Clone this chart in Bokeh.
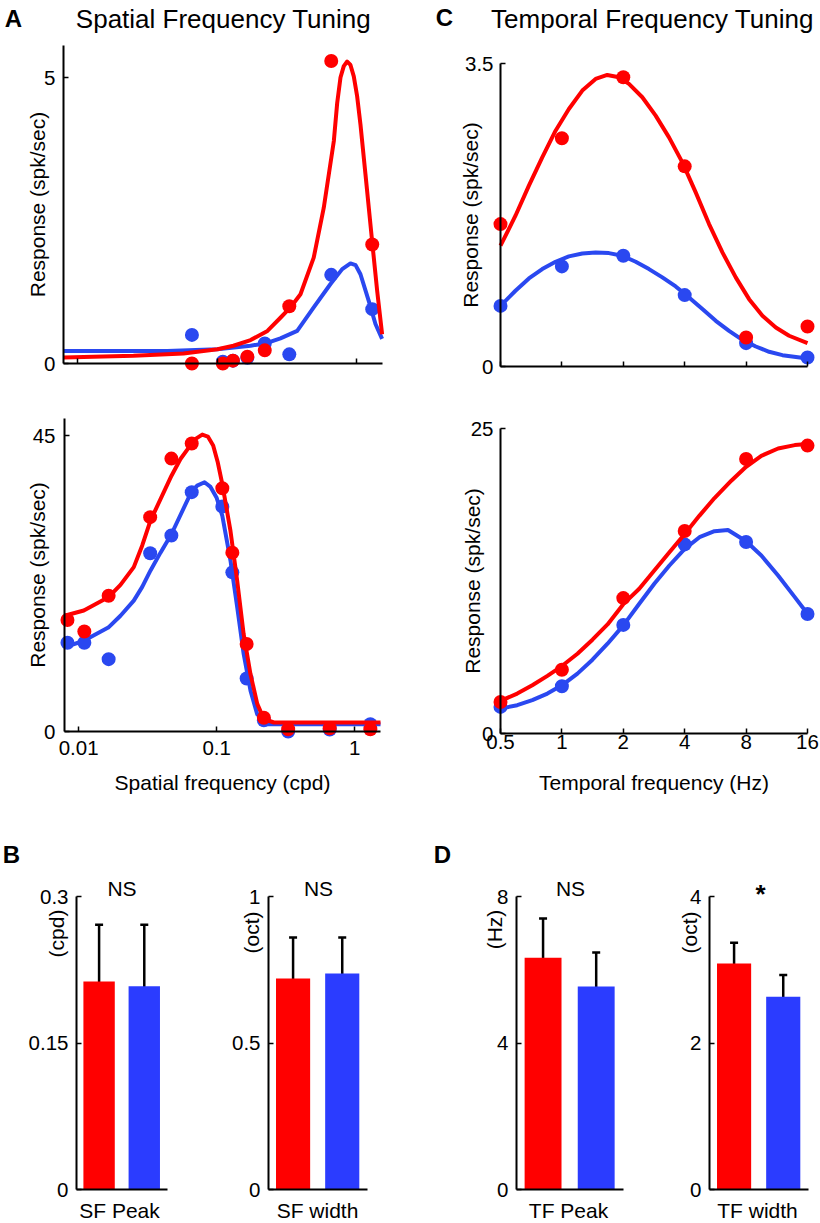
import math
from bokeh.plotting import figure
from bokeh.models import (Range1d, FixedTicker, CustomJSTickFormatter, Label,
                          Whisker, TeeHead, ColumnDataSource)
from bokeh.layouts import row, column
from bokeh.embed import file_html
from bokeh.resources import INLINE

FONT = "Liberation Sans"
RED = "#FF0000"
BLUE = "#2A48F0"
BAR_BLUE = "#2B3CFF"

# ---------------- data ----------------
# A: spatial frequency tuning (cpd)
sf = [0.0083, 0.011, 0.0165, 0.033, 0.047, 0.066, 0.11, 0.13, 0.165, 0.22, 0.33, 0.66, 1.3]
sf_top = [0.066, 0.11, 0.13, 0.165, 0.22, 0.33, 0.66, 1.3]
sfA1_red = [0.0, 0.0, 0.05, 0.12, 0.23, 1.0, 5.29, 2.08]
sfA1_blue = [0.5, 0.03, 0.05, 0.1, 0.35, 0.16, 1.55, 0.95]
sfA1_red_fit_x = [0.00793, 0.0251, 0.0574, 0.1007, 0.131, 0.174, 0.230, 0.285, 0.336, 0.397,
                  0.494, 0.583, 0.689, 0.728, 0.769, 0.812, 0.859, 0.907, 0.958, 1.013,
                  1.07, 1.162, 1.297, 1.41, 1.53]
sfA1_red_fit_y = [0.105, 0.134, 0.175, 0.25, 0.31, 0.41, 0.57, 0.80, 0.98, 1.21,
                  1.85, 2.72, 3.89, 4.55, 5.0, 5.2, 5.28, 5.22, 5.02, 4.67,
                  4.18, 3.31, 2.14, 1.27, 0.51]
sfA1_blue_fit_x = [0.00793, 0.0438, 0.1003, 0.174, 0.229, 0.285, 0.376, 0.494, 0.652, 0.791,
                   0.907, 0.987, 1.07, 1.228, 1.371, 1.53]
sfA1_blue_fit_y = [0.22, 0.22, 0.25, 0.31, 0.36, 0.44, 0.57, 0.98, 1.39, 1.65,
                   1.75, 1.72, 1.56, 1.09, 0.69, 0.43]

sfA2_red = [16.95, 15.2, 20.65, 32.6, 41.5, 43.8, 37.0, 27.2, 13.3, 2.1, 0.35, 0.5, 0.35]
sfA2_blue = [13.5, 13.5, 11.0, 27.1, 29.8, 36.4, 34.2, 24.2, 8.07, 1.7, 0.0, 0.3, 1.1]
sfA2_red_fit_x = [0.0079, 0.0109, 0.0164, 0.0201, 0.0251, 0.0289, 0.0332, 0.0471, 0.0547, 0.063,
                  0.0704, 0.0787, 0.0864, 0.0944, 0.102, 0.11, 0.126, 0.141, 0.157, 0.176,
                  0.197, 0.22, 0.26, 1.54]
sfA2_red_fit_y = [17.6, 18.4, 20.4, 22.3, 25.0, 28.3, 32.1, 38.9, 41.45, 43.2,
                  44.5, 45.15, 44.85, 43.5, 40.9, 37.6, 30.5, 22.9, 14.8, 8.7,
                  4.2, 1.9, 1.37, 1.37]
sfA2_blue_fit_x = [0.0079, 0.0109, 0.0164, 0.0201, 0.0251, 0.0289, 0.0332, 0.0392, 0.047, 0.0655,
                   0.0723, 0.0817, 0.0903, 0.0998, 0.11, 0.126, 0.141, 0.157, 0.176, 0.197,
                   0.233, 1.54]
sfA2_blue_fit_y = [12.8, 13.8, 15.8, 17.6, 19.9, 22.0, 24.5, 27.2, 30.0, 36.4,
                   37.4, 37.9, 37.2, 35.6, 32.8, 26.0, 18.9, 11.8, 6.2, 2.6,
                   1.1, 1.1]

# C: temporal frequency tuning (Hz)
tf = [0.5, 1, 2, 4, 8, 16]
tfC1_red = [1.645, 2.636, 3.341, 2.312, 0.335, 0.462]
tfC1_blue = [0.70, 1.156, 1.279, 0.825, 0.27, 0.104]
tfC1_red_fit_x = [0.5, 0.592, 0.689, 0.801, 0.931, 1.082, 1.259, 1.463, 1.669, 1.904,
                  2.132, 2.479, 2.882, 3.351, 3.896, 4.529, 5.266, 6.123, 7.118, 8.276,
                  9.62, 11.19, 13.0, 16]
tfC1_red_fit_y = [1.395, 1.742, 2.089, 2.416, 2.724, 2.975, 3.187, 3.322, 3.368, 3.341,
                  3.264, 3.110, 2.898, 2.647, 2.358, 2.012, 1.645, 1.318, 1.029, 0.778,
                  0.586, 0.451, 0.355, 0.270]
tfC1_blue_fit_x = [0.5, 0.592, 0.689, 0.801, 0.931, 1.082, 1.259, 1.463, 1.70, 1.978,
                   2.30, 2.673, 3.108, 3.613, 4.20, 4.884, 5.68, 6.60, 7.675, 8.925,
                   10.37, 12.06, 16]
tfC1_blue_fit_y = [0.701, 0.875, 1.017, 1.125, 1.210, 1.272, 1.306, 1.318, 1.310, 1.279,
                   1.210, 1.125, 1.029, 0.925, 0.798, 0.663, 0.528, 0.412, 0.308, 0.231,
                   0.170, 0.131, 0.092]

tfC2_red = [2.58, 5.23, 11.1, 16.6, 22.5, 23.6]
tfC2_blue = [2.18, 3.87, 8.9, 15.5, 15.7, 9.8]
tfC2_red_fit_x = [0.5, 0.604, 0.716, 0.849, 1.0, 1.192, 1.412, 1.674, 2.0, 2.395,
                  2.838, 3.366, 4.0, 4.727, 5.60, 6.77, 8.0, 9.50, 11.48, 13.86, 16]
tfC2_red_fit_y = [2.67, 3.27, 3.95, 4.72, 5.53, 6.54, 7.69, 8.94, 10.6, 11.86,
                  13.36, 14.86, 16.36, 17.86, 19.30, 20.72, 21.86, 22.76, 23.36, 23.64, 23.72]
tfC2_blue_fit_x = [0.5, 0.604, 0.716, 0.849, 1.0, 1.192, 1.412, 1.674, 2.0, 2.395,
                   2.838, 3.366, 4.0, 4.727, 5.60, 6.52, 8.0, 9.50, 11.48, 13.86, 16]
tfC2_blue_fit_y = [2.04, 2.32, 2.73, 3.27, 3.95, 4.91, 6.05, 7.36, 8.86, 10.63,
                   12.27, 13.77, 15.13, 16.09, 16.58, 16.68, 15.76, 14.59, 12.95, 11.18, 9.81]

# B / D: population summaries (red, blue)
sf_peak = [0.213, 0.208]
sf_peak_lo = [0.155, 0.144]
sf_peak_hi = [0.271, 0.271]
sf_width = [0.72, 0.737]
sf_width_lo = [0.583, 0.61]
sf_width_hi = [0.86, 0.86]
tf_peak = [6.33, 5.54]
tf_peak_lo = [5.32, 4.61]
tf_peak_hi = [7.4, 6.47]
tf_width = [3.085, 2.63]
tf_width_lo = [2.81, 2.35]
tf_width_hi = [3.37, 2.93]

SF_TICKS = [0.01, 0.1, 1]
TF_TICKS = [0.5, 1, 2, 4, 8, 16]

# ---------------- helpers ----------------
fmt_num = CustomJSTickFormatter(code="return String(tick);")
fmt_none = CustomJSTickFormatter(code="return '';")


def panel(X0, X1, Y0, Y1, axbox, xb, yb, xlog):
    """Figure whose frame fills the canvas [X0,X1]x[Y0,Y1]; the axes box
    (l, r, t, b in page px) maps to data bounds xb, yb."""
    l, r, t, b = axbox
    if xlog:
        lo, hi = math.log10(xb[0]), math.log10(xb[1])
        d = (hi - lo) / (r - l)
        xr = (10 ** (lo - (l - X0) * d), 10 ** (hi + (X1 - r) * d))
    else:
        d = (xb[1] - xb[0]) / (r - l)
        xr = (xb[0] - (l - X0) * d, xb[1] + (X1 - r) * d)
    d = (yb[1] - yb[0]) / (b - t)
    yr = (yb[0] - (Y1 - b) * d, yb[1] + (t - Y0) * d)
    kw = dict(width=X1 - X0, height=Y1 - Y0, x_range=Range1d(*xr), y_range=Range1d(*yr),
              output_backend="svg", toolbar_location=None, min_border=0,
              min_border_left=0, min_border_right=0, min_border_top=0, min_border_bottom=0)
    if xlog:
        kw["x_axis_type"] = "log"
    p = figure(**kw)
    p.outline_line_color = None
    p.grid.visible = False
    p.background_fill_color = "white"
    p.border_fill_color = "white"
    p._origin = (X0, Y1)
    return p


def style_axis(ax, ticks, bounds, fixed, show_labels=True, standoff=8):
    ax.ticker = FixedTicker(ticks=ticks)
    ax.bounds = bounds
    ax.fixed_location = fixed
    ax.axis_line_width = 2
    ax.axis_line_color = "black"
    ax.major_tick_in = 5
    ax.major_tick_out = 0
    ax.major_tick_line_width = 1.5
    ax.major_tick_line_color = "black"
    ax.minor_tick_line_color = None
    ax.major_label_text_font = FONT
    ax.major_label_text_font_size = "20.5px"
    ax.major_label_text_color = "black"
    ax.major_label_standoff = standoff
    ax.formatter = fmt_num if show_labels else fmt_none
    ax.axis_label_text_font = FONT
    ax.axis_label_text_font_size = "21px"
    ax.axis_label_text_font_style = "normal"
    ax.axis_label_text_color = "black"


def lab(p, X, Y, text, size="21px", bold=False, angle=0.0):
    X0, Y1 = p._origin
    p.add_layout(Label(x=X - X0, y=Y1 - Y, x_units="screen", y_units="screen", text=text,
                       text_font=FONT, text_font_size=size,
                       text_font_style="bold" if bold else "normal",
                       text_align="center", text_baseline="middle",
                       angle=angle, text_color="black"))


def curves(p, fits, pts):
    (bx, by), (rx, ry) = fits
    (pbx, pby), (prx, pry) = pts
    p.line(bx, by, line_color=BLUE, line_width=4, line_join="round")
    p.scatter(pbx, pby, size=14, fill_color=BLUE, line_color=None)
    p.line(rx, ry, line_color=RED, line_width=4, line_join="round")
    p.scatter(prx, pry, size=14, fill_color=RED, line_color=None)


SF_LO, SF_HI = 0.0079, 1.54

# ---------------- A top ----------------
A1 = panel(0, 410, 0, 395, (63, 382, 45, 363), (SF_LO, SF_HI), (0, 5.56), True)
curves(A1, ((sfA1_blue_fit_x, sfA1_blue_fit_y), (sfA1_red_fit_x, sfA1_red_fit_y)),
       ((sf_top, sfA1_blue), (sf_top, sfA1_red)))
style_axis(A1.xaxis[0], SF_TICKS, (SF_LO, SF_HI), 0, show_labels=False)
style_axis(A1.yaxis[0], [0, 5], (0, 5.56), SF_LO, standoff=8)
A1.yaxis[0].axis_label = "Response (spk/sec)"
A1.yaxis[0].axis_label_standoff = -8
lab(A1, 13, 18, "A", size="24px", bold=True)
lab(A1, 223, 18, "Spatial Frequency Tuning", size="26px")

# ---------------- C top ----------------
C1 = panel(410, 820, 0, 395, (500, 807, 63, 366), (0.5, 16), (0, 3.5), True)
curves(C1, ((tfC1_blue_fit_x, tfC1_blue_fit_y), (tfC1_red_fit_x, tfC1_red_fit_y)),
       ((tf, tfC1_blue), (tf, tfC1_red)))
style_axis(C1.xaxis[0], TF_TICKS, (0.5, 16), 0, show_labels=False)
style_axis(C1.yaxis[0], [0, 3.5], (0, 3.5), 0.5, standoff=7)
C1.yaxis[0].axis_label = "Response (spk/sec)"
C1.yaxis[0].axis_label_standoff = -20
lab(C1, 444, 17, "C", size="24px", bold=True)
lab(C1, 652, 18, "Temporal Frequency Tuning", size="26px")

# ---------------- A bottom ----------------
A2 = panel(0, 410, 395, 800, (64, 380, 418, 731), (SF_LO, SF_HI), (0, 47.6), True)
curves(A2, ((sfA2_blue_fit_x, sfA2_blue_fit_y), (sfA2_red_fit_x, sfA2_red_fit_y)),
       ((sf, sfA2_blue), (sf, sfA2_red)))
style_axis(A2.xaxis[0], SF_TICKS, (SF_LO, SF_HI), 0, standoff=9)
style_axis(A2.yaxis[0], [0, 45], (0, 47.6), SF_LO, standoff=9)
A2.xaxis[0].axis_label = "Spatial frequency (cpd)"
A2.xaxis[0].axis_label_standoff = 13
A2.yaxis[0].axis_label = "Response (spk/sec)"
A2.yaxis[0].axis_label_standoff = -19

# ---------------- C bottom ----------------
C2 = panel(410, 820, 395, 800, (500, 807, 428, 733), (0.5, 16), (0, 25), True)
curves(C2, ((tfC2_blue_fit_x, tfC2_blue_fit_y), (tfC2_red_fit_x, tfC2_red_fit_y)),
       ((tf, tfC2_blue), (tf, tfC2_red)))
style_axis(C2.xaxis[0], TF_TICKS, (0.5, 16), 0, standoff=1)
style_axis(C2.yaxis[0], [0, 25], (0, 25), 0.5, standoff=7)
C2.xaxis[0].axis_label = "Temporal frequency (Hz)"
C2.xaxis[0].axis_label_standoff = 19
C2.yaxis[0].axis_label = "Response (spk/sec)"
C2.yaxis[0].axis_label_standoff = -16

# ---------------- bar panels ----------------
BAR_X = [0.72, 2.16]


def bar_fig(X0, X1, ax_l, ax_r, ymax, yticks, vals, lo, hi):
    p = panel(X0, X1, 800, 1222, (ax_l, ax_r, 896, 1189), (0, 2.9), (0, ymax), False)
    p.vbar(x=BAR_X, top=vals, width=1.0, bottom=0, fill_color=[RED, BAR_BLUE], line_color=None)
    src = ColumnDataSource(dict(x=BAR_X, lower=lo, upper=hi))
    p.add_layout(Whisker(source=src, base="x", lower="lower", upper="upper",
                         line_width=2.5, line_color="black",
                         upper_head=TeeHead(size=8, line_width=2.5, line_color="black"),
                         lower_head=TeeHead(size=8, line_width=2.5, line_color="black")))
    style_axis(p.xaxis[0], [], (0, 2.9), 0, show_labels=False)
    style_axis(p.yaxis[0], yticks, (0, ymax), 0, standoff=8)
    return p


B1 = bar_fig(0, 200, 76, 167, 0.3, [0, 0.15, 0.3], sf_peak, sf_peak_lo, sf_peak_hi)
lab(B1, 11, 854, "B", size="24px", bold=True)
lab(B1, 121.5, 887.5, "NS")
lab(B1, 56, 933, "(cpd)", angle=math.pi / 2)
lab(B1, 119, 1210, "SF Peak")

B2 = bar_fig(200, 410, 268, 367, 1.0, [0, 0.5, 1], sf_width, sf_width_lo, sf_width_hi)
lab(B2, 318, 887.5, "NS")
lab(B2, 251, 932, "(oct)", angle=math.pi / 2)
lab(B2, 317, 1210, "SF width")

D1 = bar_fig(410, 650, 516, 623, 8, [0, 4, 8], tf_peak, tf_peak_lo, tf_peak_hi)
lab(D1, 442, 854, "D", size="24px", bold=True)
lab(D1, 570, 887.5, "NS")
lab(D1, 493.5, 929, "(Hz)", angle=math.pi / 2)
lab(D1, 568, 1210, "TF Peak")

D2 = bar_fig(650, 820, 709, 808, 4, [0, 2, 4], tf_width, tf_width_lo, tf_width_hi)
lab(D2, 760, 893, "*", size="26px", bold=True)
lab(D2, 689, 932, "(oct)", angle=math.pi / 2)
lab(D2, 757, 1210, "TF width")

layout = column(row(A1, C1), row(A2, C2), row(B1, B2, D1, D2))
open("out.html", "w").write(file_html(layout, INLINE))
